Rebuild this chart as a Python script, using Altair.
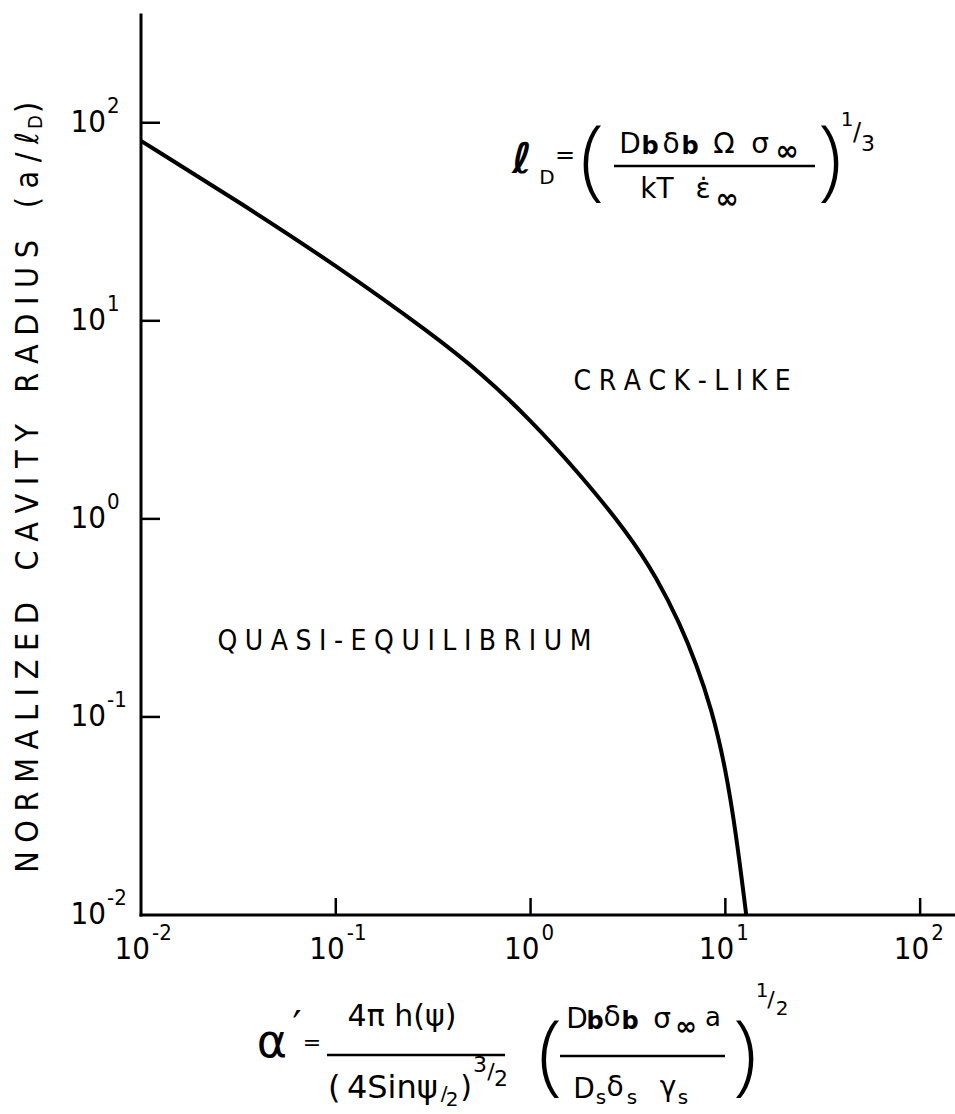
import altair as alt
import pandas as pd

# Boundary between the quasi-equilibrium and crack-like growth regimes
alpha = [0.01, 0.0316, 0.1, 0.316, 0.562, 1.0, 1.74, 3.16, 4.47, 5.85, 7.08, 8.49, 10.0, 11.4, 12.8]
radius = [81, 40, 19.1, 8.5, 5.4, 3.16, 1.74, 0.85, 0.50, 0.295, 0.186, 0.11, 0.056, 0.025, 0.01]

# Decade ticks and their exponent labels
tick_vals = [0.1, 1, 10, 100]
label_vals = [0.01, 0.1, 1, 10, 100]
label_exps = ["-2", "-1", "0", "1", "2"]

# Regime names and where they sit in data space
regions = ["CRACK-LIKE", "QUASI-EQUILIBRIUM"]
region_x = [6.0, 0.225]
region_y = [4.9, 0.24]

LEFT, TOP = 141, 15
W, H = 814, 900
FONT = "DejaVu Sans"
NARROW = "DejaVu Sans Condensed, DejaVu Sans"
THIN = "\u2009"
HAIR = "\u200a"
EN = "\u2002"

x_scale = alt.Scale(type="log", domain=[0.01, 151], nice=False)
y_scale = alt.Scale(type="log", domain=[0.01, 350], nice=False)


def spaced(s, gap=THIN):
    return gap.join(s)


def txt(s, x, y, size, align="center", baseline="middle", angle=0,
        weight="normal", style="normal", font=FONT):
    """A single piece of annotation text placed at page coordinates."""
    return alt.Chart(pd.DataFrame({"s": [s]})).mark_text(
        align=align, baseline=baseline, fontSize=size, angle=angle,
        fontWeight=weight, fontStyle=style, font=font, color="black",
    ).encode(x=alt.value(x - LEFT), y=alt.value(y - TOP), text="s:N")


def bar(x1, x2, y, width=2.5):
    """A fraction bar drawn at page coordinates."""
    return alt.Chart(pd.DataFrame({"a": [0]})).mark_rule(
        color="black", strokeWidth=width
    ).encode(x=alt.value(x1 - LEFT), x2=alt.value(x2 - LEFT), y=alt.value(y - TOP))


curve = alt.Chart(pd.DataFrame({"alpha": alpha, "radius": radius})).mark_line(
    color="black", strokeWidth=4, interpolate="basis"
).encode(
    x=alt.X("alpha:Q", scale=x_scale, axis=None),
    y=alt.Y("radius:Q", scale=y_scale, axis=None),
)

# Axis lines along the bottom and left edges of the plot
frame = alt.Chart(pd.DataFrame({"a": [0]}))
x_line = frame.mark_rule(color="black", strokeWidth=3, strokeCap="square").encode(
    x=alt.value(0), x2=alt.value(W), y=alt.value(H)
)
y_line = frame.mark_rule(color="black", strokeWidth=3, strokeCap="square").encode(
    x=alt.value(0), y=alt.value(0), y2=alt.value(H)
)

ticks_df = pd.DataFrame({"v": tick_vals})
x_ticks = alt.Chart(ticks_df).mark_rule(color="black", strokeWidth=2.5).encode(
    x=alt.X("v:Q", scale=x_scale, axis=None), y=alt.value(H - 17), y2=alt.value(H)
)
y_ticks = alt.Chart(ticks_df).mark_rule(color="black", strokeWidth=2.5).encode(
    y=alt.Y("v:Q", scale=y_scale, axis=None), x=alt.value(0), x2=alt.value(19)
)

labels_df = pd.DataFrame({"v": label_vals, "e": label_exps})
x_base = alt.Chart(labels_df).mark_text(
    align="right", baseline="middle", fontSize=31, font=NARROW, dx=9
).encode(x=alt.X("v:Q", scale=x_scale, axis=None), y=alt.value(950 - TOP), text=alt.value("10"))
x_exp = alt.Chart(labels_df).mark_text(
    align="left", baseline="middle", fontSize=22, font=NARROW, dx=11
).encode(x=alt.X("v:Q", scale=x_scale, axis=None), y=alt.value(933 - TOP), text="e:N")
y_base = alt.Chart(labels_df).mark_text(
    align="right", baseline="middle", fontSize=31, font=NARROW
).encode(y=alt.Y("v:Q", scale=y_scale, axis=None), x=alt.value(106 - LEFT), text=alt.value("10"))
y_exp = alt.Chart(labels_df).mark_text(
    align="left", baseline="middle", fontSize=22, font=NARROW, dy=-17
).encode(y=alt.Y("v:Q", scale=y_scale, axis=None), x=alt.value(107 - LEFT), text="e:N")

region_df = pd.DataFrame({
    "name": [spaced(r, THIN + HAIR) for r in regions], "x": region_x, "y": region_y
})
region_text = alt.Chart(region_df).mark_text(
    fontSize=28, font=NARROW, align="center", baseline="middle", color="black"
).encode(
    x=alt.X("x:Q", scale=x_scale, axis=None),
    y=alt.Y("y:Q", scale=y_scale, axis=None),
    text="name:N",
)

# Vertical axis title, read bottom to top
GAP = THIN + HAIR
WORD = GAP + EN + GAP
title_parts = [
    txt(spaced("NORMALIZED", GAP) + WORD + spaced("CAVITY", GAP) + WORD
        + spaced("RADIUS", GAP) + WORD + spaced("(a/ℓ", GAP),
        28, 132, 32, align="right", angle=270, font=NARROW),
    txt("D", 36, 129, 20, align="left", angle=270, font=NARROW),
    txt(")", 28, 113, 32, align="left", angle=270, font=NARROW),
]

# Diffusion length definition, upper right
PAREN = 88
ld_formula = [
    txt("ℓ", 522, 160, 42, weight="bold", style="italic"),
    txt("D", 547, 178, 20),
    txt("=", 565, 156, 24),
    txt("(", 592, 163, PAREN, font="Open Sans", weight=300),
    txt("D", 630, 145, 28), txt("b", 650, 147, 24, weight="bold"),
    txt("δ", 671, 145, 28), txt("b", 690, 147, 24, weight="bold"),
    txt("Ω", 724, 145, 28), txt("σ", 760, 145, 28),
    txt("∞", 787, 152, 28, weight="bold"),
    bar(614, 815, 166),
    txt("kT", 657, 190, 28), txt("ε̇", 703, 190, 28),
    txt("∞", 727, 200, 28, weight="bold"),
    txt(")", 830, 163, PAREN, font="Open Sans", weight=300),
    txt("1", 847, 120, 20), txt("/", 857, 133, 24), txt("3", 868, 144, 22),
]

# Definition of the horizontal-axis parameter, below the plot
alpha_formula = [
    txt("α", 272, 1043, 46), txt("′", 297, 1028, 40), txt("=", 312, 1043, 22),
    txt("4π h(ψ)", 402, 1017, 30),
    bar(327, 505, 1055),
    txt("(" + THIN + "4Sinψ", 328, 1088, 32, align="left"),
    txt("/", 444, 1094, 20), txt("2", 452, 1100, 20),
    txt(")", 466, 1088, 30),
    txt("3", 480, 1065, 22), txt("/", 491, 1072, 22), txt("2", 501, 1079, 22),
    txt("(", 550, 1058, PAREN, font="Open Sans", weight=300),
    txt("D", 577, 1020, 28), txt("b", 595, 1022, 24, weight="bold"),
    txt("δ", 612, 1018, 28), txt("b", 630, 1022, 24, weight="bold"),
    txt("σ", 662, 1020, 28), txt("∞", 686, 1027, 26, weight="bold"),
    txt("a", 713, 1018, 26),
    bar(560, 725, 1056),
    txt("D", 584, 1090, 28), txt("s", 601, 1098, 20),
    txt("δ", 615, 1088, 28), txt("s", 632, 1098, 20),
    txt("γ", 668, 1088, 28), txt("s", 683, 1098, 20),
    txt(")", 745, 1058, PAREN, font="Open Sans", weight=300),
    txt("1", 762, 991, 20), txt("/", 771, 1000, 22), txt("2", 782, 1009, 20),
]

chart = alt.layer(
    curve, x_line, y_line, x_ticks, y_ticks, x_base, x_exp, y_base, y_exp,
    region_text, *title_parts, *ld_formula, *alpha_formula,
).properties(
    width=W, height=H,
    autosize=alt.AutoSizeParams(type="none"),
    padding={"left": LEFT, "top": TOP, "right": 0, "bottom": 1114 - TOP - H},
    background="white",
).configure_view(stroke=None)

chart.save("out.html", embed_options={"renderer": "svg", "actions": False})
